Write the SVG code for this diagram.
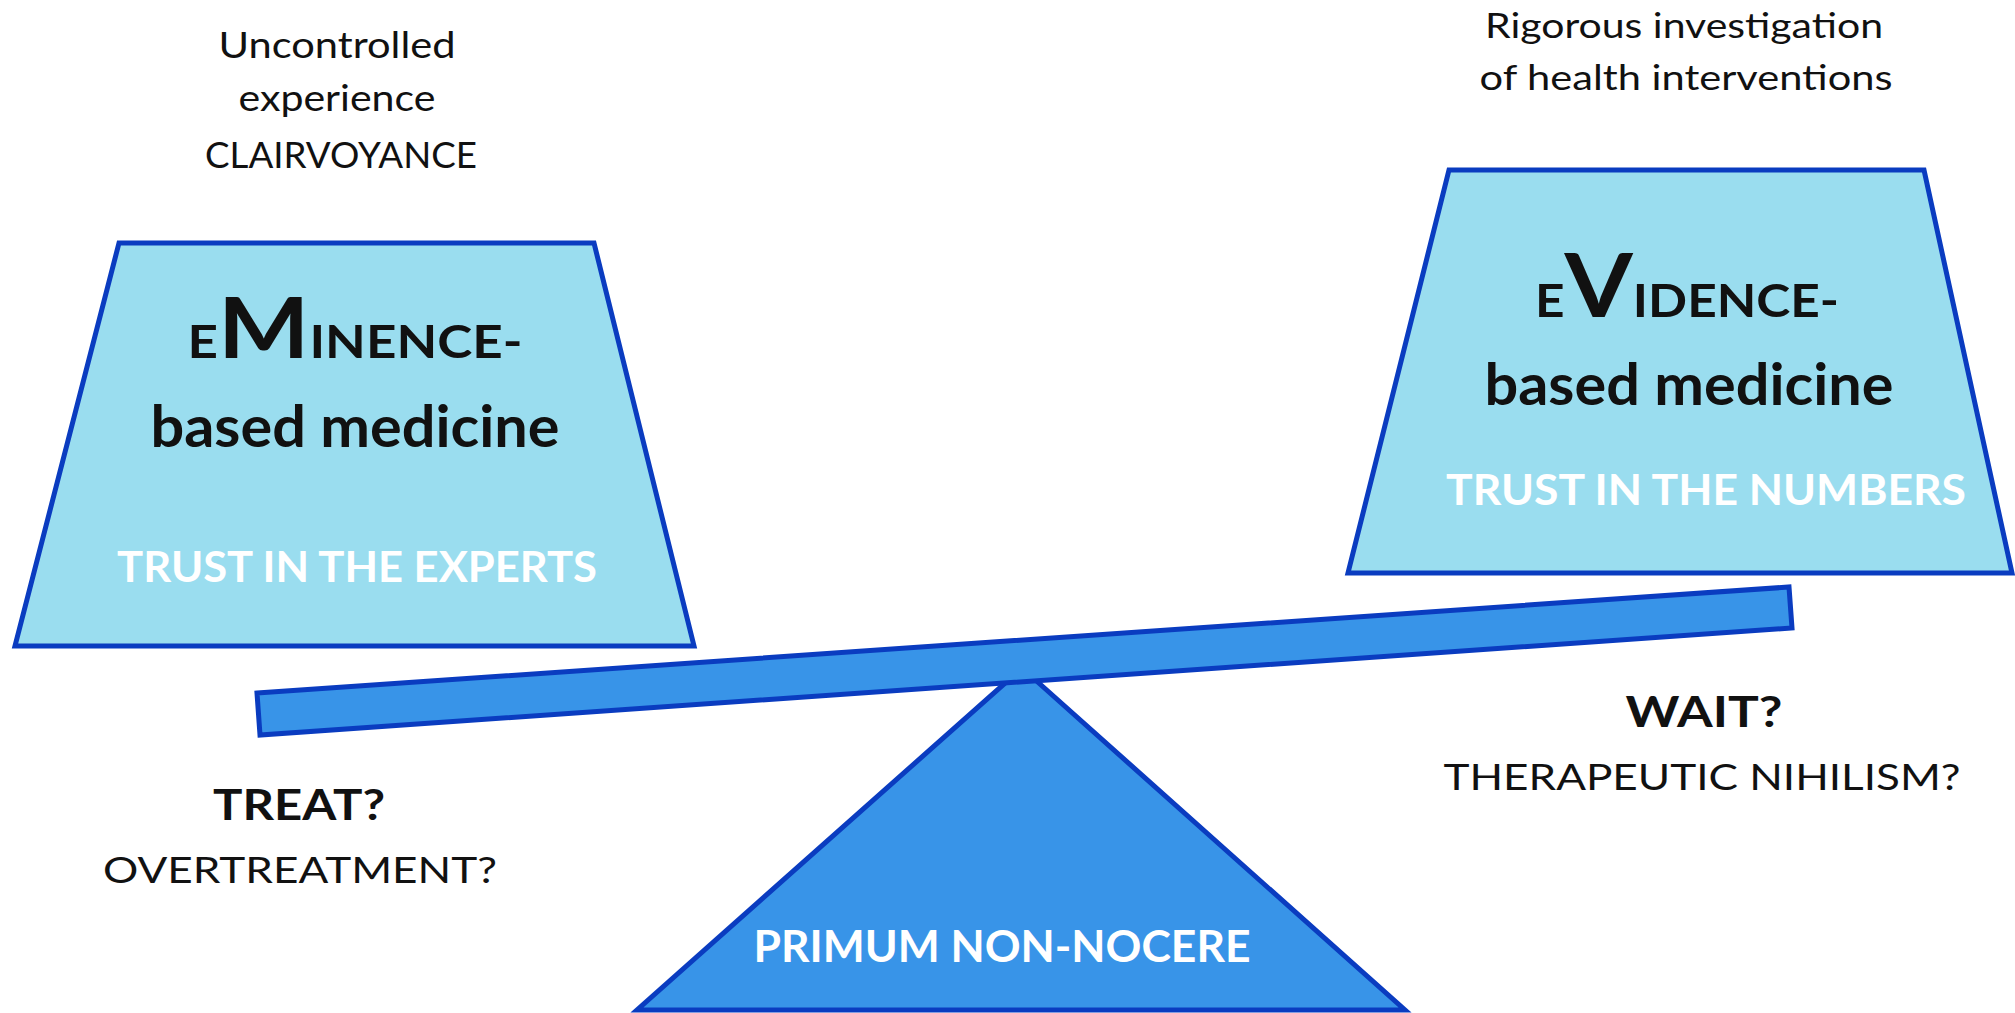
<svg xmlns="http://www.w3.org/2000/svg" width="2015" height="1013" viewBox="0 0 2015 1013">
<style>
.trap{fill:#9ADDEF;stroke:#0A3CC0;stroke-width:5;stroke-linejoin:miter}
.solid{fill:#3894E8;stroke:#0A3CC0;stroke-width:5;stroke-linejoin:miter}
.t{font-family:Lato,"Open Sans","Liberation Sans",sans-serif;fill:#111;text-anchor:middle}
.b{font-weight:700}
.w{fill:#FFFFFF;font-weight:700}
</style>
<rect width="2015" height="1013" fill="#FFFFFF"/>
<g id="connectors"></g>
<g id="node-eminence">
<polygon class="trap" points="119,243 594,243 694,646 15,646"/>
<text class="t b" x="355" y="358" textLength="335" lengthAdjust="spacingAndGlyphs"><tspan font-size="46">E</tspan><tspan font-size="84">M</tspan><tspan font-size="46">INENCE-</tspan></text>
<text class="t b" x="355" y="447" font-size="57" textLength="409" lengthAdjust="spacingAndGlyphs">based medicine</text>
<text class="t w" x="357" y="582" font-size="42" textLength="480" lengthAdjust="spacingAndGlyphs">TRUST IN THE EXPERTS</text>
</g>
<g id="node-evidence">
<polygon class="trap" points="1449,170 1924,170 2012,573 1348,573"/>
<text class="t b" x="1687" y="317" textLength="304" lengthAdjust="spacingAndGlyphs"><tspan font-size="46">E</tspan><tspan font-size="88">V</tspan><tspan font-size="46">IDENCE-</tspan></text>
<text class="t b" x="1689" y="405" font-size="57" textLength="409" lengthAdjust="spacingAndGlyphs">based medicine</text>
<text class="t w" x="1706" y="505" font-size="42" textLength="520" lengthAdjust="spacingAndGlyphs">TRUST IN THE NUMBERS</text>
</g>
<g id="node-fulcrum">
<polygon class="solid" points="1022,668 1405,1010 637,1010"/>
<text class="t w" x="1002" y="962" font-size="44" textLength="497" lengthAdjust="spacingAndGlyphs">PRIMUM NON-NOCERE</text>
</g>
<g id="node-beam">
<polygon class="solid" points="257,693 1789,587 1792,628 260,735"/>
</g>
<g id="label-eminence-source">
<text class="t" x="337" y="58" font-size="37" textLength="237" lengthAdjust="spacingAndGlyphs">Uncontrolled</text>
<text class="t" x="337" y="111" font-size="37" textLength="197" lengthAdjust="spacingAndGlyphs">experience</text>
<text class="t" x="341" y="168" font-size="37" textLength="272" lengthAdjust="spacingAndGlyphs">CLAIRVOYANCE</text>
</g>
<g id="label-evidence-source">
<text class="t" x="1684" y="38" font-size="34" textLength="398" lengthAdjust="spacingAndGlyphs">Rigorous investigation</text>
<text class="t" x="1686" y="90" font-size="34" textLength="413" lengthAdjust="spacingAndGlyphs">of health interventions</text>
</g>
<g id="label-treat">
<text class="t b" x="299" y="820" font-size="42" textLength="172" lengthAdjust="spacingAndGlyphs">TREAT?</text>
<text class="t" x="300" y="883" font-size="37" textLength="394" lengthAdjust="spacingAndGlyphs">OVERTREATMENT?</text>
</g>
<g id="label-wait">
<text class="t b" x="1704" y="727" font-size="42" textLength="157" lengthAdjust="spacingAndGlyphs">WAIT?</text>
<text class="t" x="1702" y="790" font-size="37" textLength="517" lengthAdjust="spacingAndGlyphs">THERAPEUTIC NIHILISM?</text>
</g>
</svg>
